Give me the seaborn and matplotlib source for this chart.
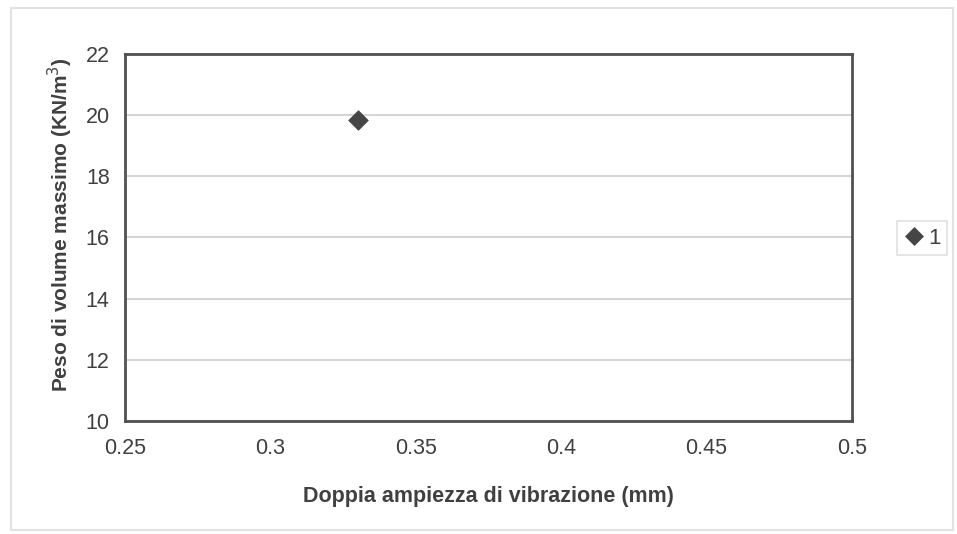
import matplotlib
matplotlib.use("Agg")
import matplotlib.pyplot as plt
import seaborn as sns
import pandas as pd
from matplotlib.patches import Rectangle

# Data
amplitude = [0.33]
max_unit_weight = [19.85]
series = ["1"]

x_ticks = [0.25, 0.30, 0.35, 0.40, 0.45, 0.50]
x_tick_labels = ["0.25", "0.3", "0.35", "0.4", "0.45", "0.5"]
y_ticks = [10, 12, 14, 16, 18, 20, 22]

df = pd.DataFrame({"x": amplitude, "y": max_unit_weight, "serie": series})

sns.set_theme(style="white")
plt.rcParams["font.family"] = ["Liberation Sans", "DejaVu Sans"]

fig = plt.figure(figsize=(9.57, 5.34), dpi=100)
ax = fig.add_axes([0.1306, 0.2116, 0.7597, 0.6873])

# Outer chart frame
fig.patches.append(Rectangle((0.011, 0.008), 0.985, 0.977, transform=fig.transFigure,
                             fill=False, edgecolor="#e2e2e2", linewidth=1.5))

sns.scatterplot(data=df, x="x", y="y", hue="serie", palette=["#454545"],
                marker="D", s=100, edgecolor="#454545", linewidth=0.5, ax=ax)

ax.set_xlim(0.25, 0.5)
ax.set_ylim(10, 22)
ax.set_xticks(x_ticks)
ax.set_xticklabels(x_tick_labels)
ax.set_yticks(y_ticks)
ax.yaxis.grid(True, color="#d4d4d4", linewidth=1.4)
ax.xaxis.grid(False)
ax.set_axisbelow(True)

for sp in ax.spines.values():
    sp.set_visible(True)
    sp.set_color("#505050")
    sp.set_linewidth(2)

ax.tick_params(axis="both", labelsize=15.5, colors="#404040", length=0)
ax.tick_params(axis="x", pad=12)
ax.tick_params(axis="y", pad=11)

ax.set_xlabel("Doppia ampiezza di vibrazione (mm)", fontsize=15.5, fontweight="bold",
              color="#404040", labelpad=20)
ax.set_ylabel("Peso di volume massimo (KN/m$^3$)", fontsize=15, fontweight="bold",
              color="#404040")
ax.yaxis.set_label_coords(-0.069, 0.534)

leg = ax.legend(loc="center left", bbox_to_anchor=(0.937, 0.554),
                bbox_transform=fig.transFigure, frameon=True, fontsize=16,
                handletextpad=0.1, borderpad=0.3, handlelength=1.0,
                borderaxespad=0, fancybox=False, markerscale=0.95)
leg.get_frame().set_edgecolor("#d8d8d8")
leg.get_frame().set_linewidth(1.2)
for t in leg.get_texts():
    t.set_color("#404040")

fig.savefig("out.png", dpi=100)
